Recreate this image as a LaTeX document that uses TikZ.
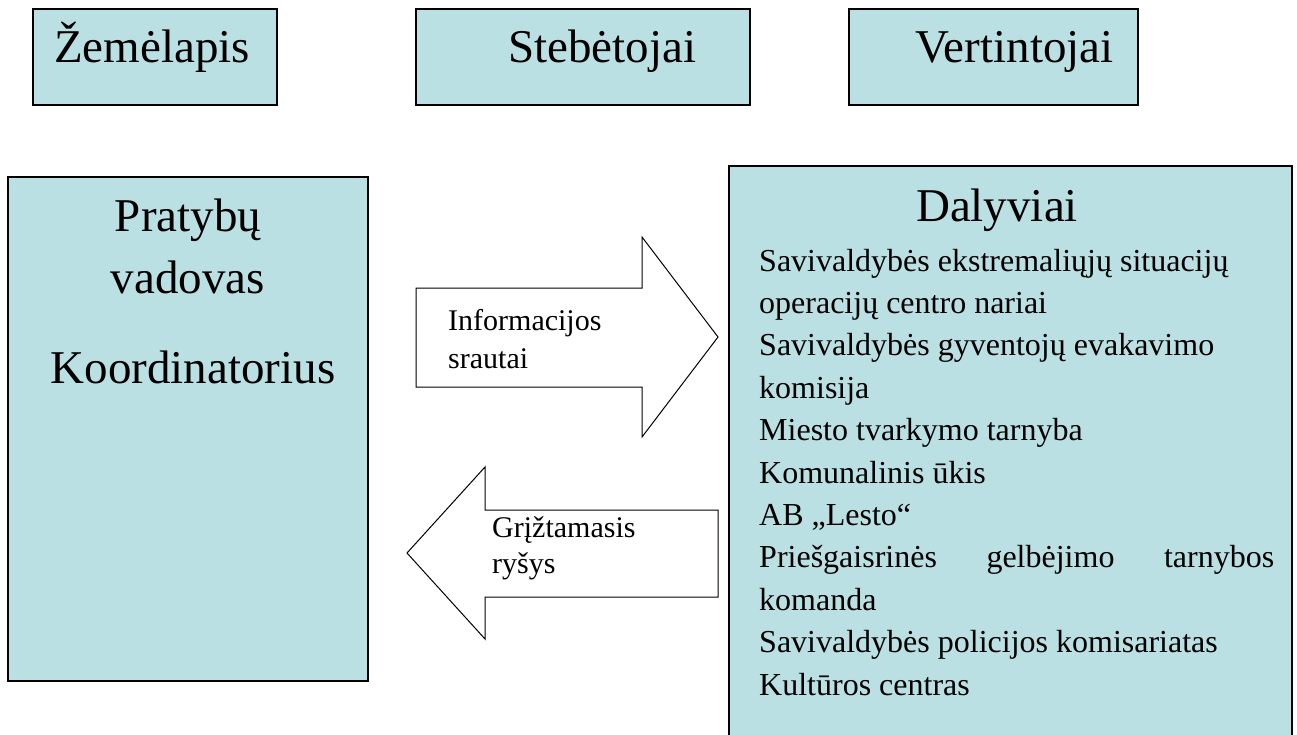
\documentclass[tikz,border=0pt]{standalone}
\usepackage{fontspec}
\setmainfont{Liberation Serif}
\definecolor{paleblue}{RGB}{187,224,227}
\tikzset{
  panel/.style={draw=black, fill=paleblue, line width=1.6pt},
  flowarrow/.style={draw=black, fill=white, line width=1pt, line join=miter},
  bigtext/.style={inner sep=0pt, font=\fontsize{47}{56}\selectfont},
  arrowtext/.style={inner sep=0pt, anchor=base west, font=\fontsize{30}{36}\selectfont},
  listtext/.style={inner sep=0pt, anchor=base west, font=\fontsize{32}{42}\selectfont}
}
\begin{document}
\begin{tikzpicture}[x=1pt, y=-1pt]
  \clip (0,0) rectangle (1297,735);
  \fill[white] (0,0) rectangle (1297,735);

  \draw [panel] (33,9) rectangle (277,105);
  \draw [panel] (416,9) rectangle (750,105);
  \draw [panel] (849,9) rectangle (1138,105);
  \node [bigtext, anchor=base west] (map) at (54,63) {Žemėlapis};
  \node [bigtext, anchor=base west] (observers) at (508,63) {Stebėtojai};
  \node [bigtext, anchor=base west] (judges) at (915,63) {Vertintojai};

  \draw [panel] (8,177) rectangle (368,681);
  \node [bigtext, anchor=base] (lead) at (188,232) {Pratybų};
  \node [bigtext, anchor=base] (leadb) at (188,293) {vadovas};
  \node [bigtext, anchor=base] (coord) at (193,383) {Koordinatorius};

  \draw [panel] (729,166) rectangle (1292,760);
  \node [bigtext, anchor=base] (members) at (997,222) {Dalyviai};
  \foreach \txt [count=\i from 0] in {
      Savivaldybės ekstremaliųjų situacijų,
      operacijų centro nariai,
      Savivaldybės gyventojų evakavimo,
      komisija,
      Miesto tvarkymo tarnyba,
      Komunalinis ūkis,
      AB „Lesto“,
      {\hbox to 515pt{Priešgaisrinės\hfill gelbėjimo\hfill tarnybos}},
      komanda,
      Savivaldybės policijos komisariatas,
      Kultūros centras}
    \node [listtext] (m\i) at (759,{271+42.4*\i}) {\txt};

  \draw [flowarrow] (416,288) -- (642,288) -- (642,237) -- (718,337) -- (642,437) -- (642,387) -- (416,387) -- cycle;
  \draw [flowarrow] (718,510) -- (485,510) -- (485,467) -- (407,553) -- (485,639) -- (485,597) -- (718,597) -- cycle;
  \node [arrowtext] (info) at (448,330) {Informacijos};
  \node [arrowtext] (infob) at (448,368) {srautai};
  \node [arrowtext] (feed) at (492,537) {Grįžtamasis};
  \node [arrowtext] (feedb) at (492,573) {ryšys};
\end{tikzpicture}
\end{document}
